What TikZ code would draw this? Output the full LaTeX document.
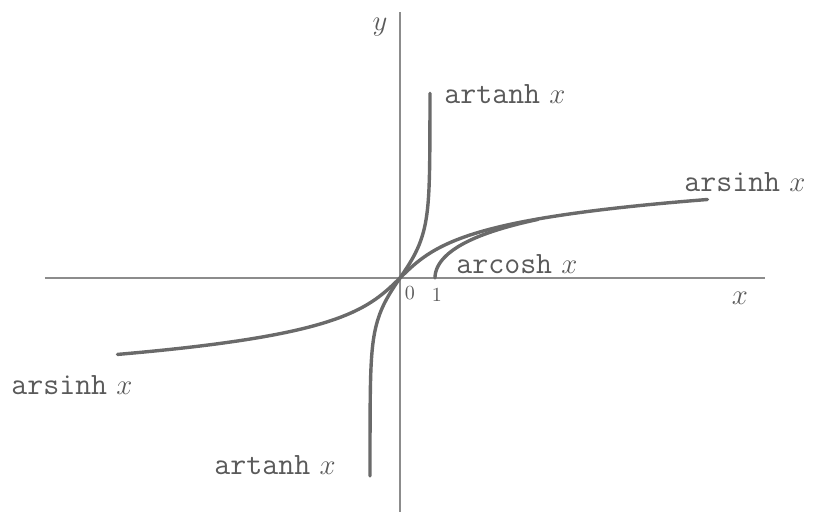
\documentclass[tikz,border=0pt]{standalone}
\usepackage{tikz}
\usetikzlibrary{positioning}
\definecolor{curveGray}{HTML}{6A6A6A}
\definecolor{axisGray}{HTML}{8C8C8C}
\definecolor{labelGray}{HTML}{5A5A5A}

\begin{document}
\begin{tikzpicture}[
  x=0.5pt, y=0.5pt,
  axis/.style={draw=axisGray, line width=0.75pt},
  graph/.style={draw=curveGray, line width=1.7pt, line cap=round, smooth},
  fname/.style={font=\fontsize{15.5}{17}\selectfont\ttfamily, text=labelGray, inner sep=1pt},
  axlabel/.style={font=\fontsize{15}{17}\selectfont, text=labelGray, inner sep=1pt},
  ticklabel/.style={font=\fontsize{10}{12}\selectfont, text=labelGray, inner sep=1pt},
]
\useasboundingbox (-400,-234) rectangle (416,278);

% === AXES ===
\coordinate (xl) at (-355,0);
\coordinate (xr) at (365,0);
\coordinate (yb) at (0,-234);
\coordinate (yt) at (0,266);
\draw[axis] (xl) -- (xr);
\draw[axis] (yb) -- (yt);

% === CURVES ===
\draw[graph] plot[domain=-3.12:3.205, samples=90] ({25*sinh(\x)}, {24.5*\x});
\draw[graph] plot[domain=-4.5:4.2, samples=140] ({30*tanh(\x)}, {44*\x});
\draw[graph] plot[domain=0:2.05, samples=50] ({35*cosh(\x)}, {28.6*\x});

% === LABELS ===
\node[axlabel] (ylab) at (-20,251) {$y$};
\node[axlabel] (xlab) at (340,-20) {$x$};
\node[ticklabel] (zero) at (10,-15) {$0$};
\node[ticklabel] (one) at (37,-17) {1};

\node[fname, anchor=west] (tanhTop) at (42,184) {artanh\hspace{0.3em}$x$};
\node[fname, anchor=west] (sinhRight) at (282,96) {arsinh\hspace{0.3em}$x$};
\node[fname, anchor=west] (coshLab) at (54,14) {arcosh\hspace{0.3em}$x$};
\node[fname, anchor=west] (sinhLeft) at (-391,-107) {arsinh\hspace{0.3em}$x$};
\node[fname, anchor=east] (tanhBot) at (-62,-187) {artanh\hspace{0.3em}$x$};

\end{tikzpicture}
\end{document}
